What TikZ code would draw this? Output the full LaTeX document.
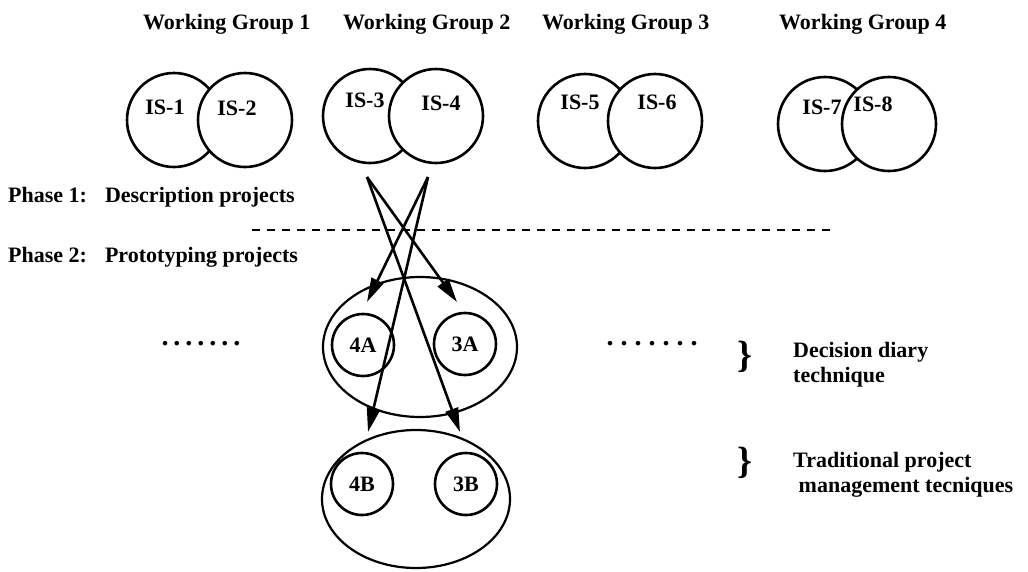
\documentclass[tikz,border=0pt]{standalone}
\usepackage{fontspec}
\setmainfont{Liberation Serif}
\usetikzlibrary{arrows.meta,shapes.geometric}
\begin{document}
\begin{tikzpicture}[x=1pt,y=-1pt,
  lbl/.style={font=\fontsize{22}{25}\selectfont\bfseries, inner sep=0pt},
  dots/.style={font=\fontsize{28}{30}\selectfont\bfseries, inner sep=0pt},
  iscirc/.style={draw, fill=white, line width=2.6pt, circle, minimum size=94pt, inner sep=0pt},
  smallcirc/.style={draw, line width=2.6pt, circle, minimum size=62pt, inner sep=0pt, font=\fontsize{22}{25}\selectfont\bfseries},
  grp/.style={draw, line width=2.2pt, ellipse},
  arr/.style={line width=2.6pt, -{Triangle[length=24pt,width=13pt]}},
  brace/.style={font=\fontsize{38}{40}\selectfont\bfseries, inner sep=0pt}
]
\useasboundingbox (0,0) rectangle (1028,571);

% Working group titles
\node[lbl, anchor=west] (wg1) at (143,24) {Working Group 1};
\node[lbl, anchor=west] (wg2) at (343,24) {Working Group 2};
\node[lbl, anchor=west] (wg3) at (542,24) {Working Group 3};
\node[lbl, anchor=west] (wg4) at (779,24) {Working Group 4};

% IS circles (right one of each pair drawn over the left one)
\node[iscirc] (c1) at (174,120) {};
\node[iscirc] (c2) at (245,120) {};
\node[iscirc] (c3) at (370,116) {};
\node[iscirc] (c4) at (436,116) {};
\node[iscirc] (c5) at (585,121) {};
\node[iscirc] (c6) at (655,121) {};
\node[iscirc] (c7) at (825,124) {};
\node[iscirc] (c8) at (889,124) {};
\node[lbl] (t1) at (165,107) {IS-1};
\node[lbl] (t2) at (237,108) {IS-2};
\node[lbl] (t3) at (365,100) {IS-3};
\node[lbl] (t4) at (441,103) {IS-4};
\node[lbl] (t5) at (580,102) {IS-5};
\node[lbl] (t6) at (657,102) {IS-6};
\node[lbl] (t7) at (822,107) {IS-7};
\node[lbl] (t8) at (873,104) {IS-8};

% Phases
\node[lbl, anchor=west] (ph1) at (8,197) {Phase 1:\hspace{18pt}Description projects};
\node[lbl, anchor=west] (ph2) at (8,257) {Phase 2:\hspace{18pt}Prototyping projects};
\coordinate (dl) at (252,230);
\coordinate (dr) at (835,230);
\draw[line width=2.6pt, dash pattern=on 8pt off 7pt] (dl) -- (dr);

% group ellipses
\node[grp, minimum width=194pt, minimum height=140pt] (ea) at (420,347) {};
\node[grp, minimum width=188pt, minimum height=138pt] (eb) at (416,499) {};

% prototype circles
\node[smallcirc] (p4a) at (363,345) {4A};
\node[smallcirc] (p3a) at (465,344) {3A};
\node[smallcirc] (p4b) at (362,484) {4B};
\node[smallcirc] (p3b) at (466,484) {3B};

% arrows
\coordinate (s3) at (367,177);
\coordinate (s4) at (428,177);
\coordinate (e3a) at (457,302);
\coordinate (e4a) at (367,302);
\coordinate (e3b) at (460,432);
\coordinate (e4b) at (368,432);
\draw[arr] (s3) -- (e3a);
\draw[arr] (s4) -- (e4a);
\draw[arr] (s3) -- (e3b);
\draw[arr] (s4) -- (e4b);

% dots
\node[dots] (dotl) at (201,344) {.\hspace{5pt}.\hspace{5pt}.\hspace{5pt}.\hspace{5pt}.\hspace{5pt}.\hspace{5pt}.};
\node[dots] (dotr) at (652,344) {.\hspace{7pt}.\hspace{7pt}.\hspace{7pt}.\hspace{7pt}.\hspace{7pt}.\hspace{7pt}.};

% braces and technique labels
\node[brace] (b1) at (745,357) {\}};
\node[brace] (b2) at (745,463) {\}};
\node[lbl, anchor=west, align=left] (tech1) at (793,365) {Decision diary\\technique};
\node[lbl, anchor=west, align=left] (tech2) at (793,475) {Traditional project\\\ management tecniques};
\end{tikzpicture}
\end{document}
